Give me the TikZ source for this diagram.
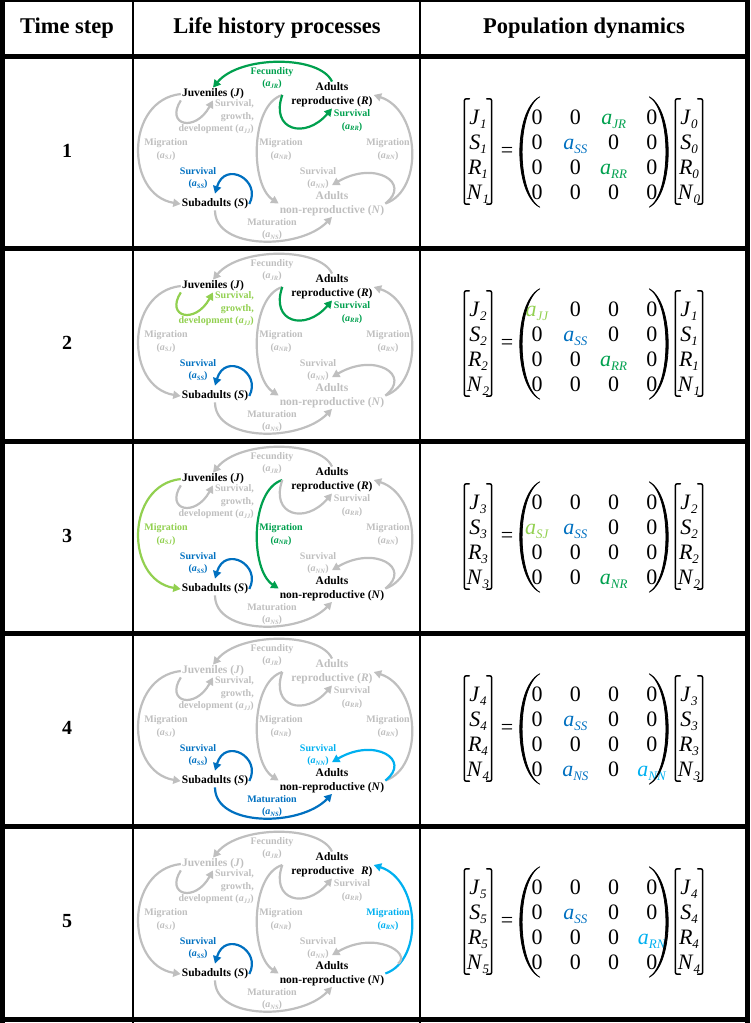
\documentclass[tikz,border=0pt]{standalone}
\usepackage{fontspec}
\setmainfont{Liberation Serif}
\usepackage{xcolor}
\definecolor{lhgray}{HTML}{BFBFBF}
\definecolor{lhgreen}{HTML}{00A04E}
\definecolor{lhlime}{HTML}{92D050}
\definecolor{lhblue}{HTML}{0070C0}
\definecolor{lhsky}{HTML}{00B0F0}
\usepackage{tikz}
\usetikzlibrary{
  arrows.meta,
  matrix,
}

% rate and stage symbols
\newcommand\lab[1]{(\textit{a}\raisebox{-1.5pt}{\fontsize{6.5}{6.5}\selectfont\textit{#1}})}
\newcommand\pv[2]{\textit{#1}\raisebox{-4pt}{\fontsize{13}{13}\selectfont\textit{#2}}}
\newcommand\arate[2]{\textcolor{#2}{\pv{a}{#1}}}
\newcommand\Rlabel{(\textit{R})}

% one life cycle panel, #1 = time step
\newcommand\lifecycle[1]{%
  % Stages
  \node[stage, nJ] (J#1) at (213,39) {Juveniles (\textit{J})};
  \node[stage, nR] (R#1) at (332,40) {Adults\\reproductive \Rlabel};
  \node[stage, nS] (S#1) at (215,149) {Subadults (\textit{S})};
  \node[stage, nN] (N#1) at (332,148.5) {Adults\\non-reproductive (\textit{N})};
  % Big arcs
  \draw[flow, sj] (J#1.west) .. controls (125,45) and (125,140) .. (S#1.west);
  \draw[flow, nr] ([xshift=-8pt]R#1.west) .. controls (250,50) and (250,130) .. (N#1.west);
  \draw[flow, rn] (N#1.east) .. controls (424,135) and (420,55) .. (R#1.east);
  \draw[flow, fec] (R#1.north) .. controls (320,0) and (240,0) .. (J#1.north);
  \draw[flow, ns] (S#1.south) .. controls (215,195) and (300,195) .. (N#1.south);
  % Loops
  \draw[flow, jj] (J#1.south west) .. controls (165,70) and (195,78) .. (J#1.south);
  \draw[flow, rr] ([xshift=-8pt]R#1.west) .. controls (270,75) and (305,85) .. (R#1.south);
  \draw[flow, ss] (S#1.east) .. controls (262,125) and (225,105) .. ([yshift=4pt]S#1.north);
  \draw[flow, nn] (N#1.east) .. controls (412,128) and (375,105) .. ([yshift=5pt]N#1.north);
  % Labels
  \node[rate, fec] (lfec#1) at (272,23) {Fecundity\\\lab{JR}};
  \node[rate, jj, align=right, anchor=east] (ljj#1) at (254,62)
    {Survival,\\growth,\\development \lab{JJ}};
  \node[rate, rr] (lrr#1) at (352,65.5) {Survival\\\lab{RR}};
  \node[rate, sj] (lsj#1) at (166,94.5) {Migration\\\lab{SJ}};
  \node[rate, nr] (lnr#1) at (281,94.5) {Migration\\\lab{NR}};
  \node[rate, rn] (lrn#1) at (388,94.5) {Migration\\\lab{RN}};
  \node[rate, ss] (lss#1) at (198,123) {Survival\\\lab{SS}};
  \node[rate, nn] (lnn#1) at (318,123) {Survival\\\lab{NN}};
  \node[rate, ns] (lns#1) at (272,174) {Maturation\\\lab{NS}};
}

% brackets round the vectors, parentheses round the matrix
\newcommand\delims[1]{%
  \draw[delim] ([xshift=5pt,yshift=8pt]X#1.north west) -- ([yshift=8pt]X#1.north west)
    -- ([yshift=3pt]X#1.south west) -- ([xshift=5pt,yshift=3pt]X#1.south west);
  \draw[delim] ([xshift=-5pt,yshift=8pt]X#1.north east) -- ([yshift=8pt]X#1.north east)
    -- ([yshift=3pt]X#1.south east) -- ([xshift=-5pt,yshift=3pt]X#1.south east);
  \filldraw[paren] ([xshift=22pt,yshift=10pt]M#1.north west)
    .. controls ([xshift=-4.5pt,yshift=-4pt]M#1.north west) and ([xshift=-4.5pt,yshift=14pt]M#1.south west)
    .. ([xshift=22pt]M#1.south west)
    .. controls ([xshift=-1.5pt,yshift=14pt]M#1.south west) and ([xshift=-1.5pt,yshift=-4pt]M#1.north west)
    .. cycle;
  \filldraw[paren] ([xshift=-22pt,yshift=10pt]M#1.north east)
    .. controls ([xshift=3.2pt,yshift=-4pt]M#1.north east) and ([xshift=3.2pt,yshift=14pt]M#1.south east)
    .. ([xshift=-22pt]M#1.south east)
    .. controls ([xshift=0.2pt,yshift=14pt]M#1.south east) and ([xshift=0.2pt,yshift=-4pt]M#1.north east)
    .. cycle;
  \draw[delim] ([xshift=5pt,yshift=8pt]Y#1.north west) -- ([yshift=8pt]Y#1.north west)
    -- ([yshift=3pt]Y#1.south west) -- ([xshift=5pt,yshift=3pt]Y#1.south west);
  \draw[delim] ([xshift=-5pt,yshift=8pt]Y#1.north east) -- ([yshift=8pt]Y#1.north east)
    -- ([yshift=3pt]Y#1.south east) -- ([xshift=-5pt,yshift=3pt]Y#1.south east);
}

\begin{document}
\begin{tikzpicture}[
  x=1pt, y=-1pt,
  head/.style={font=\bfseries\fontsize{22.5}{24}\selectfont},
  stepnum/.style={font=\bfseries\fontsize{20}{20}\selectfont},
  stage/.style={
    font=\bfseries\fontsize{11.5}{14}\selectfont, align=center, inner sep=1pt,
  },
  rate/.style={
    font=\bfseries\fontsize{10}{12.5}\selectfont, align=center, inner sep=0pt,
    color=lhgray,
  },
  flow/.style={
    -{Triangle[length=7.5pt,width=8pt]}, line width=2.2pt, color=lhgray,
  },
  entry/.style={
    font=\fontsize{22}{22}\selectfont, text height=15pt, text depth=5pt,
    minimum height=25pt, inner sep=0pt, anchor=base,
  },
  popmat/.style={matrix of nodes, nodes={entry, minimum width=38.3pt}, inner sep=0pt},
  popvec/.style={matrix of nodes, nodes={entry, minimum width=27pt}, inner sep=0pt},
  eqsign/.style={font=\fontsize{22}{22}\selectfont, inner sep=0pt},
  delim/.style={line width=1.5pt, rounded corners=2pt, line cap=round},
  paren/.style={line width=0.8pt, line join=round, fill=black},
  rule/.style={line width=5pt},
  fec/.style={}, jj/.style={}, rr/.style={}, sj/.style={}, nr/.style={},
  rn/.style={}, ss/.style={}, nn/.style={}, ns/.style={},
  nJ/.style={}, nR/.style={}, nS/.style={}, nN/.style={},
]
  \useasboundingbox (0,0) rectangle (750,1023);

  % Table
  \draw[line width=2pt] (0,1) -- (750,1);
  \foreach \y in {56,248,441,633,826,1019}
    \draw[rule] (0,\y) -- (750,\y);
  \draw[rule] (2.5,0) -- (2.5,1023);
  \draw[rule] (747.5,0) -- (747.5,1023);
  \draw[line width=1.5pt] (133,0) -- (133,1023);
  \draw[line width=1.5pt] (420,0) -- (420,1023);

  % Header
  \node[head] (hstep) at (67,28) {Time step};
  \node[head] (hlife) at (277,28) {Life history processes};
  \node[head] (hpop) at (584,28) {Population dynamics};

  % Time step 1
  \begin{scope}[shift={(0,55)}, fec/.style={color=lhgreen}, rr/.style={color=lhgreen},
      ss/.style={color=lhblue}, nN/.style={color=lhgray}]
    \node[stepnum] (t1) at (67,96) {1};
    \lifecycle{1}
    \matrix (X1) [popvec] at (478,102) {\pv{J}{1}\\ \pv{S}{1}\\ \pv{R}{1}\\ \pv{N}{1}\\};
    \node[eqsign] (eq1) at (507,97) {=};
    \matrix (M1) [popmat] at (594.5,102) {
      0 & 0 & \arate{JR}{lhgreen} & 0\\
      0 & \arate{SS}{lhblue} & 0 & 0\\
      0 & 0 & \arate{RR}{lhgreen} & 0\\
      0 & 0 & 0 & 0\\};
    \matrix (Y1) [popvec] at (689,102) {\pv{J}{0}\\ \pv{S}{0}\\ \pv{R}{0}\\ \pv{N}{0}\\};
    \delims{1}
  \end{scope}

  % Time step 2
  \begin{scope}[shift={(0,247)}, jj/.style={color=lhlime}, rr/.style={color=lhgreen},
      ss/.style={color=lhblue}, nN/.style={color=lhgray}]
    \node[stepnum] (t2) at (67,96) {2};
    \lifecycle{2}
    \matrix (X2) [popvec] at (478,102) {\pv{J}{2}\\ \pv{S}{2}\\ \pv{R}{2}\\ \pv{N}{2}\\};
    \node[eqsign] (eq2) at (507,97) {=};
    \matrix (M2) [popmat] at (594.5,102) {
      \arate{JJ}{lhlime} & 0 & 0 & 0\\
      0 & \arate{SS}{lhblue} & 0 & 0\\
      0 & 0 & \arate{RR}{lhgreen} & 0\\
      0 & 0 & 0 & 0\\};
    \matrix (Y2) [popvec] at (689,102) {\pv{J}{1}\\ \pv{S}{1}\\ \pv{R}{1}\\ \pv{N}{1}\\};
    \delims{2}
  \end{scope}

  % Time step 3
  \begin{scope}[shift={(0,440)}, sj/.style={color=lhlime}, nr/.style={color=lhgreen},
      ss/.style={color=lhblue}]
    \node[stepnum] (t3) at (67,96) {3};
    \lifecycle{3}
    \matrix (X3) [popvec] at (478,102) {\pv{J}{3}\\ \pv{S}{3}\\ \pv{R}{3}\\ \pv{N}{3}\\};
    \node[eqsign] (eq3) at (507,97) {=};
    \matrix (M3) [popmat] at (594.5,102) {
      0 & 0 & 0 & 0\\
      \arate{SJ}{lhlime} & \arate{SS}{lhblue} & 0 & 0\\
      0 & 0 & 0 & 0\\
      0 & 0 & \arate{NR}{lhgreen} & 0\\};
    \matrix (Y3) [popvec] at (689,102) {\pv{J}{2}\\ \pv{S}{2}\\ \pv{R}{2}\\ \pv{N}{2}\\};
    \delims{3}
  \end{scope}

  % Time step 4
  \begin{scope}[shift={(0,632)}, ss/.style={color=lhblue}, ns/.style={color=lhblue},
      nn/.style={color=lhsky}, nJ/.style={color=lhgray}, nR/.style={color=lhgray}]
    \node[stepnum] (t4) at (67,96) {4};
    \lifecycle{4}
    \matrix (X4) [popvec] at (478,102) {\pv{J}{4}\\ \pv{S}{4}\\ \pv{R}{4}\\ \pv{N}{4}\\};
    \node[eqsign] (eq4) at (507,97) {=};
    \matrix (M4) [popmat] at (594.5,102) {
      0 & 0 & 0 & 0\\
      0 & \arate{SS}{lhblue} & 0 & 0\\
      0 & 0 & 0 & 0\\
      0 & \arate{NS}{lhblue} & 0 & \arate{NN}{lhsky}\\};
    \matrix (Y4) [popvec] at (689,102) {\pv{J}{3}\\ \pv{S}{3}\\ \pv{R}{3}\\ \pv{N}{3}\\};
    \delims{4}
  \end{scope}

  % Time step 5
  \begin{scope}[shift={(0,825)}, ss/.style={color=lhblue}, rn/.style={color=lhsky},
      nn/.style={shorten <=16pt}, nJ/.style={color=lhgray}]
    \renewcommand\Rlabel{\phantom{(}\textit{R})}
    \node[stepnum] (t5) at (67,96) {5};
    \lifecycle{5}
    \matrix (X5) [popvec] at (478,102) {\pv{J}{5}\\ \pv{S}{5}\\ \pv{R}{5}\\ \pv{N}{5}\\};
    \node[eqsign] (eq5) at (507,97) {=};
    \matrix (M5) [popmat] at (594.5,102) {
      0 & 0 & 0 & 0\\
      0 & \arate{SS}{lhblue} & 0 & 0\\
      0 & 0 & 0 & \arate{RN}{lhsky}\\
      0 & 0 & 0 & 0\\};
    \matrix (Y5) [popvec] at (689,102) {\pv{J}{4}\\ \pv{S}{4}\\ \pv{R}{4}\\ \pv{N}{4}\\};
    \delims{5}
  \end{scope}
\end{tikzpicture}
\end{document}
